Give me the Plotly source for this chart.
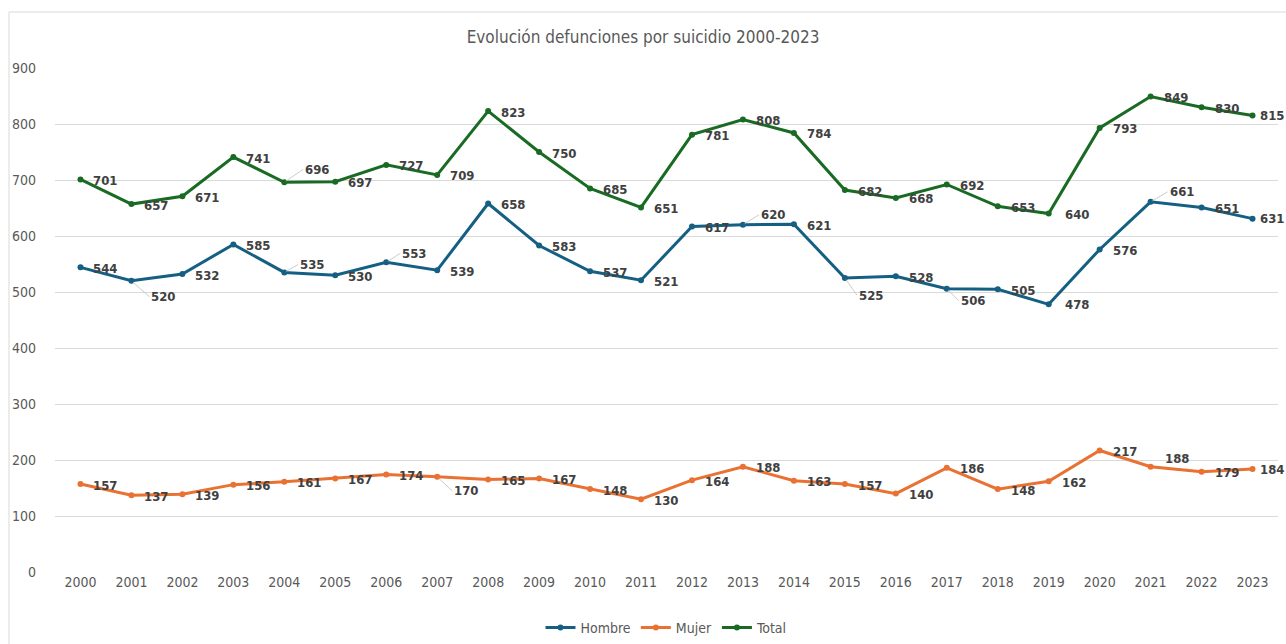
import plotly.graph_objects as go

years = list(range(2000, 2024))
hombre = [544, 520, 532, 585, 535, 530, 553, 539, 658, 583, 537, 521, 617, 620, 621, 525, 528, 506, 505, 478, 576, 661, 651, 631]
mujer = [157, 137, 139, 156, 161, 167, 174, 170, 165, 167, 148, 130, 164, 188, 163, 157, 140, 186, 148, 162, 217, 188, 179, 184]
total = [701, 657, 671, 741, 696, 697, 727, 709, 823, 750, 685, 651, 781, 808, 784, 682, 668, 692, 653, 640, 793, 849, 830, 815]

title = "Evolución defunciones por suicidio 2000-2023"
series_names = ["Hombre", "Mujer", "Total"]
colors = ["#156082", "#E97132", "#196B24"]

# label offsets in pixels (dx, dy), leader flag — styling only
default_off = (11, 1, False)
special = {
    "Hombre": {1: (16, 16, True), 4: (12, -8, True), 6: (12, -9, True), 13: (14, -10, True),
               15: (10, 17, True), 17: (10, 12, True), 21: (15, -10, True), 19: (14, 0, False),
               23: (5, 0, False)},
    "Mujer": {7: (13, 14, True), 21: (12, -8, False), 23: (5, 1, False)},
    "Total": {4: (17, -13, True), 19: (14, 1, False), 23: (5, 0, False)},
}

W, H = 1286, 644
ml, mr, mt, mb = 55, 8, 68, 72

FONT = "Liberation Sans Narrow, DejaVu Sans Condensed, Arial Narrow, sans-serif"
LABEL_SIZE = 13

fig = go.Figure()
data = {"Hombre": hombre, "Mujer": mujer, "Total": total}
for name, col in zip(series_names, colors):
    fig.add_trace(go.Scatter(
        x=years, y=data[name], mode="lines+markers", name=name,
        line=dict(color=col, width=3), marker=dict(color=col, size=6),
        hoverinfo="skip"))

annotations = []
for name in series_names:
    vals = data[name]
    for i, (xv, yv) in enumerate(zip(years, vals)):
        dx, dy, lead = special[name].get(i, default_off)
        if lead:
            annotations.append(dict(
                x=xv, y=yv, xref="x", yref="y", text=f"<b>{yv}</b>",
                showarrow=True, arrowhead=0, arrowwidth=0.8, arrowcolor="#bfbfbf",
                ax=dx + 2, ay=dy, xanchor="left", yanchor="middle",
                standoff=2, font=dict(family=FONT, size=LABEL_SIZE, color="#404040")))
        else:
            annotations.append(dict(
                x=xv, y=yv, xref="x", yref="y", text=f"<b>{yv}</b>",
                showarrow=False, xanchor="left", yanchor="middle",
                xshift=dx, yshift=-dy, font=dict(family=FONT, size=LABEL_SIZE, color="#404040")))

pw = W - ml - mr
ph = H - mt - mb
fig.update_layout(
    width=W, height=H,
    margin=dict(l=ml, r=mr, t=mt, b=mb, autoexpand=False),
    paper_bgcolor="white", plot_bgcolor="white",
    title=dict(text=title, x=0.5, xanchor="center", y=1 - 37 / H, yanchor="middle",
               font=dict(family=FONT, size=17, color="#595959")),
    xaxis=dict(range=[1999.5, 2023.5], tickmode="array", tickvals=years,
               ticktext=[str(y) for y in years], showgrid=False, zeroline=False,
               showline=False, ticks="", automargin=False,
               tickfont=dict(family=FONT, size=14, color="#595959")),
    yaxis=dict(range=[0, 900], dtick=100, showgrid=True, gridcolor="#d9d9d9", gridwidth=1,
               zeroline=False, showline=False, ticks="", automargin=False,
               tickfont=dict(family=FONT, size=14, color="#595959"), ticklabelstandoff=18),
    legend=dict(orientation="h", x=0.5, xanchor="center", y=-(628 - (H - mb)) / ph, yanchor="middle",
                font=dict(family=FONT, size=14, color="#595959"), itemwidth=30, tracegroupgap=0),
    annotations=annotations,
    showlegend=True,
    shapes=[dict(type="rect", xref="paper", yref="paper",
                 x0=(9 - ml) / pw, x1=(W + 5 - ml) / pw,
                 y0=-(H + 5 - (H - mb)) / ph, y1=1 + (mt - 12) / ph,
                 line=dict(color="#d9d9d9", width=1), layer="below")],
)

fig.write_html("out.html", config={"displayModeBar": False},
               post_script="document.body.style.margin='0';document.body.style.padding='0';document.body.style.overflow='hidden';")
